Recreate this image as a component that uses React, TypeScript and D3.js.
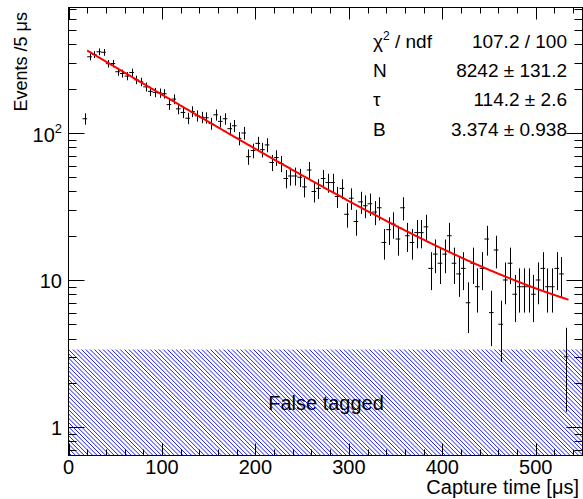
import React from 'react';
import * as d3 from 'd3';

// ---- data (histogram: bin centers in µs, counts per 5 µs) ----
const binCenters = [
  17.5, 22.5, 27.5, 32.5, 37.5, 42.5, 47.5, 52.5, 57.5, 62.5, 67.5, 72.5, 77.5, 82.5, 87.5, 92.5,
  97.5, 102.5, 107.5, 112.5, 117.5, 122.5, 127.5, 132.5, 137.5, 142.5, 147.5, 152.5, 157.5, 162.5,
  167.5, 172.5, 177.5, 182.5, 187.5, 192.5, 197.5, 202.5, 207.5, 212.5, 217.5, 222.5, 227.5, 232.5,
  237.5, 242.5, 247.5, 252.5, 257.5, 262.5, 267.5, 272.5, 277.5, 282.5, 287.5, 292.5, 297.5, 302.5,
  307.5, 312.5, 317.5, 322.5, 327.5, 332.5, 337.5, 342.5, 347.5, 352.5, 357.5, 362.5, 367.5, 372.5,
  377.5, 382.5, 387.5, 392.5, 397.5, 402.5, 407.5, 412.5, 417.5, 422.5, 427.5, 432.5, 437.5, 442.5,
  447.5, 452.5, 457.5, 462.5, 467.5, 472.5, 477.5, 482.5, 487.5, 492.5, 497.5, 502.5, 507.5, 512.5,
  517.5, 522.5, 527.5, 532.5,
];
const counts = [
  125, 330, 342, 357, 354, 296, 297, 261, 254, 244, 258, 230, 223, 206, 192, 189,
  187, 185, 156, 170, 146, 138, 126, 140, 131, 128, 127, 116, 133, 120,
  125, 107, 112, 92, 100, 69, 76, 85, 77, 83, 63, 68, 62, 49,
  51, 51, 50, 43, 56, 40, 42, 49, 46, 46, 37, 42, 28, 36,
  25, 34, 32, 33, 29, 31, 18, 22, 24, 19, 31, 20, 18, 21,
  21, 23, 12, 15, 13, 15, 20, 13, 11, 12, 7, 13, 9, 12,
  19, 6, 16, 5, 10, 13, 8, 9, 9, 9, 8, 10, 12, 9,
  9, 12, 11, 3,
];
const binWidth = 5;

// ---- fit (from the stat box) ----
const fitN = 8242;
const fitTau = 114.2;
const fitB = 3.374;
const fitRange = [20, 535];

const statLabels = ['χ', 'N', 'τ', 'B'];
const statValues = ['107.2 / 100', '8242 ± 131.2', '114.2 ± 2.6', '3.374 ± 0.938'];

const xMajorTicks = [0, 100, 200, 300, 400, 500];
const xTickLabels = ['0', '100', '200', '300', '400', '500'];
const yMajorTicks = [1, 10, 100];

const W = 583;
const H = 499;
const L = 68.5, R = 582.5, T = 7.5, B = 455.5;
const FONT = '"Liberation Sans", Arial, Helvetica, sans-serif';

export default function App() {
  const x = d3.scaleLinear().domain([0, 550]).range([L, R]);
  const y = d3.scaleLog().domain([0.64, 714]).range([B, T]);

  // ticks
  const xMinor = d3.range(0, 551, 20).filter((v) => v % 100 !== 0);
  const yMinor: number[] = [];
  [0.1, 1, 10, 100].forEach((d) => {
    for (let m = 2; m <= 9; m++) {
      const v = m * d;
      if (v >= 0.64 && v <= 714) yMinor.push(v);
    }
  });

  const fitPts = d3.range(fitRange[0], fitRange[1] + 0.001, 1).map((t) => [
    t,
    (fitN * binWidth) / fitTau * Math.exp(-(t - fitRange[0]) / fitTau) + fitB,
  ]);
  const fitLine = d3
    .line<number[]>()
    .x((d) => x(d[0]))
    .y((d) => y(d[1]));

  // hatch lines
  const hatchTop = y(fitB);
  const hatchH = B - hatchTop;
  const hatchSpacing = 4.3;
  const hatchStarts = d3.range(L - hatchH - 10, R + 10, hatchSpacing);

  return (
    <svg
      width={W}
      height={H}
      style={{ position: 'absolute', left: 0, top: 0, background: '#fff' }}
      fontFamily={FONT}
    >
      <rect x={0} y={0} width={W} height={H} fill="#fff" />
      <defs>
        <clipPath id="hclip">
          <rect x={L} y={hatchTop} width={R - L} height={hatchH} />
        </clipPath>
        <clipPath id="frame">
          <rect x={L} y={T} width={R - L} height={B - T} />
        </clipPath>
      </defs>

      {/* False tagged hatched box */}
      <g clipPath="url(#hclip)" stroke="#1a1aff" strokeWidth={1}>
        {hatchStarts.map((s, i) => (
          <line key={i} x1={s} y1={hatchTop} x2={s + hatchH} y2={B} />
        ))}
      </g>
      <text x={326} y={410} fontSize={20} textAnchor="middle" fill="#000">
        False tagged
      </text>

      {/* data points with error bars */}
      <g stroke="#000" strokeWidth={1} clipPath="url(#frame)">
        {counts.map((c, i) => {
          const t = binCenters[i];
          const e = Math.sqrt(c);
          const xc = Math.round(x(t)) + 0.5;
          return (
            <g key={i}>
              <line x1={xc} x2={xc} y1={y(Math.max(c - e, 0.64))} y2={y(c + e)} />
              <line x1={x(t - binWidth / 2)} x2={x(t + binWidth / 2)} y1={y(c)} y2={y(c)} />
            </g>
          );
        })}
      </g>

      {/* fit */}
      <path d={fitLine(fitPts) || ''} fill="none" stroke="#ff0000" strokeWidth={2} />

      {/* frame */}
      <rect x={L} y={T} width={R - L} height={B - T} fill="none" stroke="#000" strokeWidth={1} />

      {/* x ticks */}
      <g stroke="#000" strokeWidth={1}>
        {xMajorTicks.map((v) => (
          <g key={'xm' + v}>
            <line x1={Math.round(x(v)) + 0.5} x2={Math.round(x(v)) + 0.5} y1={B} y2={B - 12} />
            <line x1={Math.round(x(v)) + 0.5} x2={Math.round(x(v)) + 0.5} y1={T} y2={T + 12} />
          </g>
        ))}
        {xMinor.map((v) => (
          <g key={'xn' + v}>
            <line x1={Math.round(x(v)) + 0.5} x2={Math.round(x(v)) + 0.5} y1={B} y2={B - 6} />
            <line x1={Math.round(x(v)) + 0.5} x2={Math.round(x(v)) + 0.5} y1={T} y2={T + 6} />
          </g>
        ))}
        {yMajorTicks.map((v) => (
          <g key={'ym' + v}>
            <line x1={L} x2={L + 16} y1={Math.round(y(v)) + 0.5} y2={Math.round(y(v)) + 0.5} />
            <line x1={R} x2={R - 16} y1={Math.round(y(v)) + 0.5} y2={Math.round(y(v)) + 0.5} />
          </g>
        ))}
        {yMinor.map((v) => (
          <g key={'yn' + v}>
            <line x1={L} x2={L + 8} y1={Math.round(y(v)) + 0.5} y2={Math.round(y(v)) + 0.5} />
            <line x1={R} x2={R - 8} y1={Math.round(y(v)) + 0.5} y2={Math.round(y(v)) + 0.5} />
          </g>
        ))}
      </g>

      {/* x tick labels */}
      <g fontSize={20} fill="#000" textAnchor="middle">
        {xMajorTicks.map((v, i) => (
          <text key={v} x={x(v)} y={474}>
            {xTickLabels[i]}
          </text>
        ))}
      </g>

      {/* y tick labels */}
      <g fontSize={20} fill="#000" textAnchor="end">
        <text x={62} y={y(1) + 8}>1</text>
        <text x={62} y={y(10) + 8}>10</text>
        <text x={62} y={y(100) + 9}>
          10<tspan fontSize={13} dy={-9}>2</tspan>
        </text>
      </g>

      {/* axis titles */}
      <text x={579} y={494} fontSize={20} textAnchor="end" fill="#000">
        Capture time [μs]
      </text>
      <text
        transform={`translate(27,12) rotate(-90)`}
        fontSize={18}
        textAnchor="end"
        fill="#000"
      >
        Events /5 μs
      </text>

      {/* stat box */}
      <g fontSize={19} fill="#000">
        {statLabels.map((lab, i) => (
          <text key={lab} x={373} y={48 + i * 29.2}>
            {i === 0 ? (
              <>
                χ<tspan fontSize={12} dy={-8}>2</tspan>
                <tspan dy={8}> / ndf</tspan>
              </>
            ) : (
              lab
            )}
          </text>
        ))}
        {statValues.map((v, i) => (
          <text key={v} x={567} y={48 + i * 29.2} textAnchor="end">
            {v}
          </text>
        ))}
      </g>
    </svg>
  );
}
